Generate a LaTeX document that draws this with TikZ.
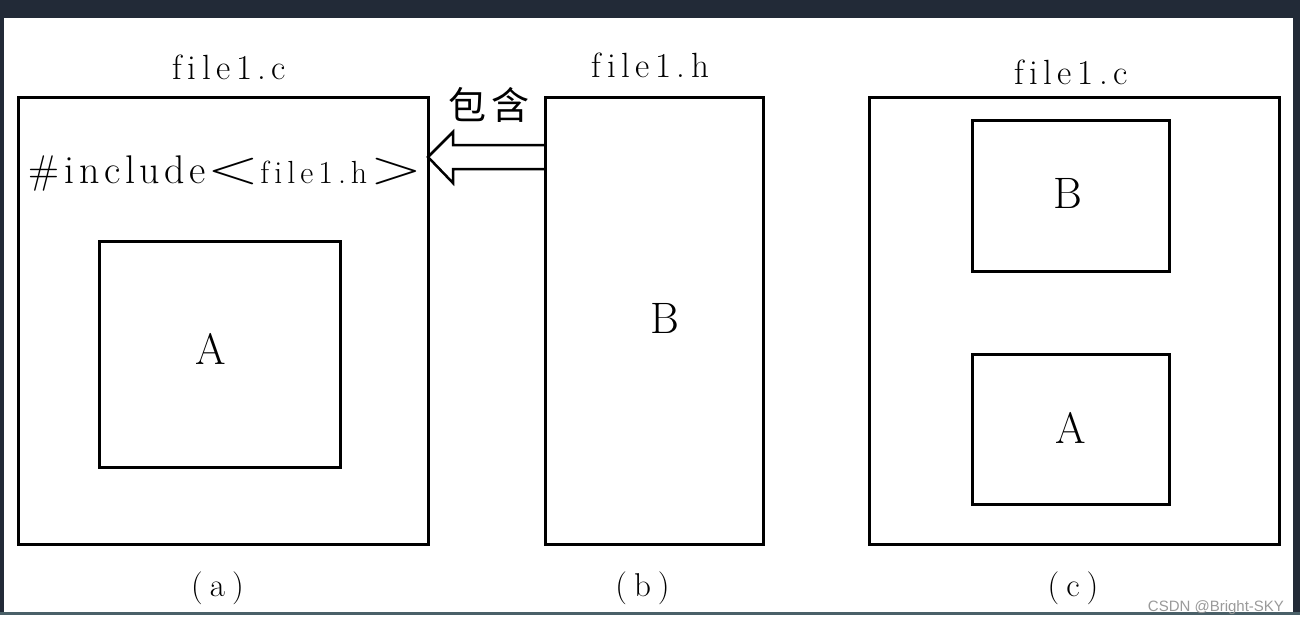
\documentclass[tikz,border=0pt]{standalone}
\usepackage{fontspec}
\usepackage{graphicx}
\newfontfamily\cjk{Noto Sans CJK SC}
\newfontfamily\wmfont{Liberation Sans}
\usetikzlibrary{calc}
\definecolor{framecol}{HTML}{222A37}
\definecolor{framelinecol}{HTML}{4A6068}
\definecolor{wmcol}{HTML}{9A9A9A}
\newlength\lsg
\newcommand\gp{\hspace{\lsg}}
\begin{document}
\begin{tikzpicture}[x=1pt,y=-1pt,
  box/.style={draw=black,line width=3pt,inner sep=0pt,outer sep=0pt},
  txt/.style={inner sep=0pt,outer sep=0pt,anchor=base},
  title/.style={txt,font=\fontsize{35}{35}\selectfont\setlength\lsg{5.5pt}},
  letter/.style={txt,font=\fontsize{44}{44}\selectfont},
  caption/.style={txt,font=\fontsize{33}{33}\selectfont},
  hollowarrow/.style={draw=black,line width=2.5pt,line join=miter}]
\useasboundingbox (0,0) rectangle (1300,624);
\fill[white] (0,0) rectangle (1300,624);
\fill[framecol] (0,0) rectangle (1300,613);
\fill[white] (4,18) rectangle (1293,612);
\fill[framelinecol] (0,612) rectangle (1300,614.5);

% boxes
\node[box,minimum width=410pt,minimum height=447pt] (fa) at (223,320.5) {};
\node[box,minimum width=241pt,minimum height=226pt] (ia) at (219.5,354) {};
\node[box,minimum width=218pt,minimum height=447pt] (fh) at (654,320.5) {};
\node[box,minimum width=410pt,minimum height=447pt] (fc) at (1074,320.5) {};
\node[box,minimum width=197pt,minimum height=151pt] (cb) at (1070.5,195.5) {};
\node[box,minimum width=197pt,minimum height=150pt] (ca) at (1070.5,429) {};

% titles
\node[title] (ta) at (229.5,79) {f\gp i\gp l\gp e\gp 1\gp .\gp c};
\node[title] (tb) at (650.5,77) {f\gp i\gp l\gp e\gp 1\gp .\gp h};
\node[title] (tc) at (1071,84) {f\gp i\gp l\gp e\gp 1\gp .\gp c};

% include line
\node[txt,anchor=base west] (inc) at (28,183) {\fontsize{40}{40}\selectfont\#\hspace{6pt}{\setlength\lsg{4.5pt}i\gp n\gp c\gp l\gp u\gp d\gp e}\hspace{2pt}\scalebox{1.7}[1.2]{\textless}\hspace{1pt}{\fontsize{32}{32}\selectfont\setlength\lsg{5pt}f\gp i\gp l\gp e\gp 1\gp .\gp h}\hspace{3pt}\scalebox{1.7}[1.2]{\textgreater}};

% contain label
\node[inner sep=0pt,font=\cjk\fontsize{38}{38}\selectfont] (bh) at (489,105) {包\hspace{5pt}含};

% letters
\node[letter] (la) at (211,364) {A};
\node[letter] (lb) at (665,333) {B};
\node[letter] (lcb) at (1067.5,208) {B};
\node[letter] (lca) at (1071,443) {A};

% captions
\node[caption] (capa) at (217.5,596) {(\hspace{7pt}a\hspace{7pt})};
\node[caption] (capb) at (642.5,596) {(\hspace{7pt}b\hspace{7pt})};
\node[caption] (capc) at (1073,596) {(\hspace{7pt}c\hspace{7pt})};

% hollow arrow from file1.h to file1.c
\coordinate (ay) at (0,157);
\coordinate (tip) at (fa.east |- ay);
\draw[hollowarrow] ($(fh.west |- tip)+(0,-12)$) -- ($(tip)+(25,-12)$) -- ($(tip)+(25,-25)$) -- (tip) -- ($(tip)+(25,26)$) -- ($(tip)+(25,12)$) -- ($(fh.west |- tip)+(0,12)$);

% watermark
\node[txt,font=\wmfont\fontsize{15}{15}\selectfont,text=wmcol,anchor=base east] (wm) at (1284,611) {CSDN @Bright-SKY};
\end{tikzpicture}
\end{document}
